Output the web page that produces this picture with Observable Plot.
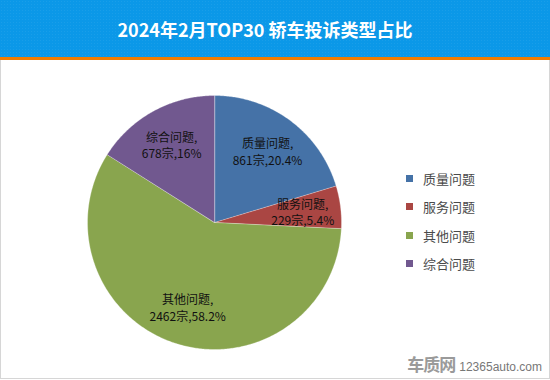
<!DOCTYPE html>
<html>
<head>
<meta charset="utf-8">
<script src="https://cdn.jsdelivr.net/npm/d3@7"></script>
<script src="https://cdn.jsdelivr.net/npm/@observablehq/plot@0.6"></script>
<style>
  html, body { margin: 0; padding: 0; background: #fff; }
  body { width: 550px; height: 380px; overflow: hidden; font-family: "Noto Sans CJK SC", "Noto Sans", sans-serif; }
  #wrap { position: relative; width: 550px; height: 380px; }
  #title {
    height: 57px; background: #0b98e8;
    background-image: radial-gradient(rgba(255,255,255,0.06) 1px, transparent 1px);
    background-size: 3px 3px;
    border-bottom: 3px solid #f07c00;
    color: #fff; font-weight: bold; font-size: 18px;
    display: flex; align-items: center; justify-content: center;
    padding-right: 20px; box-sizing: content-box;
  }
  #chart { position: absolute; left: 0; top: 60px; width: 548px; height: 318px; border: 1px solid #d6d6d6; border-top: none; }
  #chart svg { display: block; }
  #legend { position: absolute; left: 406px; top: 164px; font-size: 13px; color: #4a4a4a; }
  #legend .row { display: flex; align-items: center; height: 28.5px; }
  #legend .sw { width: 7px; height: 7px; margin-right: 10px; }
  #wm { position: absolute; right: 8px; bottom: 4px; display: flex; align-items: baseline; color: #8a8a8a; }
  #wm .logo { font-size: 17px; font-weight: bold; color: #9a9a9a; margin-right: 4px; letter-spacing: -1px; }
  #wm .url { font-size: 12px; font-family: "Liberation Sans", Arial, sans-serif; color: #777; }
</style>
</head>
<body>
<div id="wrap">
  <div id="title">2024年2月TOP30 轿车投诉类型占比</div>
  <div id="chart"></div>
  <div id="legend"></div>
  <div id="wm"><span class="logo">车质网</span><span class="url">12365auto.com</span></div>
</div>
<script>
const categories = ["质量问题", "服务问题", "其他问题", "综合问题"];
const counts = [861, 229, 2462, 678];
const percents = ["20.4", "5.4", "58.2", "16"];
const colors = ["#4572a7", "#aa4643", "#89a54e", "#71588f"];

const data = categories.map((name, i) => ({name, count: counts[i], pct: percents[i]}));
const arcs = d3.pie().sort(null).value(d => d.count)(data);

// slice outlines (unit circle, angle 0 at 12 o'clock, clockwise)
const slicePts = [];
arcs.forEach(a => {
  const n = Math.max(4, Math.ceil((a.endAngle - a.startAngle) / 0.01));
  slicePts.push({name: a.data.name, x: 0, y: 0});
  for (let k = 0; k <= n; k++) {
    const t = a.startAngle + (a.endAngle - a.startAngle) * k / n;
    slicePts.push({name: a.data.name, x: Math.sin(t), y: Math.cos(t)});
  }
});
const labels = arcs.map(a => {
  const m = (a.startAngle + a.endAngle) / 2;
  return {x: 0.7 * Math.sin(m), y: 0.7 * Math.cos(m),
          text: `${a.data.name},\n${a.data.count}宗,${a.data.pct}%`};
});

const plot = Plot.plot({
  width: 548, height: 318,
  margin: 0,
  x: {domain: [-1, 1], range: [86, 340], axis: null},
  y: {domain: [-1, 1], range: [289, 35], axis: null},
  color: {domain: categories, range: colors},
  style: {background: "#fff", fontFamily: "'Noto Sans CJK SC', sans-serif"},
  marks: [
    Plot.line(slicePts, {x: "x", y: "y", z: "name", fill: "name", stroke: "#ffffff", strokeOpacity: 0.5, strokeWidth: 0.6, curve: "linear-closed"}),
    Plot.text(labels, {x: "x", y: "y", text: "text", fontSize: 12, fill: "#111", lineHeight: 1.4})
  ]
});
document.getElementById("chart").appendChild(plot);

const lg = document.getElementById("legend");
categories.forEach((c, i) => {
  const r = document.createElement("div");
  r.className = "row";
  r.innerHTML = `<span class="sw" style="background:${colors[i]}"></span><span>${c}</span>`;
  lg.appendChild(r);
});
</script>
</body>
</html>
